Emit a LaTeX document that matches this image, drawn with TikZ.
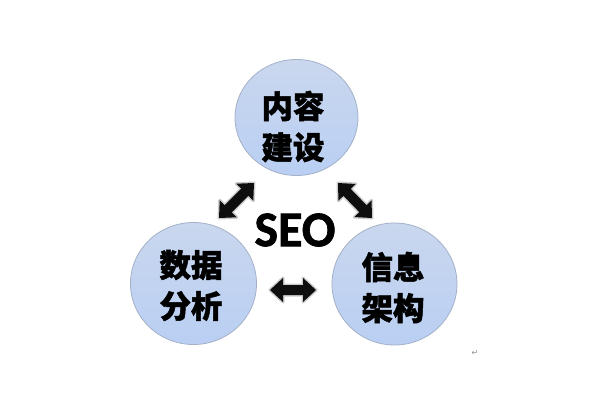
\documentclass[tikz,border=0pt]{standalone}
\usepackage{fontspec}
\newfontfamily\cjk{Noto Sans CJK SC}[BoldFeatures={FakeBold=1.5}]
\newfontfamily\seofont{Carlito}[BoldFeatures={FakeBold=1.3}]
\newfontfamily\symfont{DejaVu Sans}
\usetikzlibrary{shapes.geometric,calc}
\definecolor{circtop}{HTML}{CAD7EE}
\definecolor{circmid}{HTML}{DCE7F9}
\definecolor{circbot}{HTML}{B9CFF3}
\definecolor{circedge}{HTML}{A3B1C8}
\definecolor{arrowcol}{HTML}{0E0E0E}
\newcommand\myDblArrow[2]{%
  \fill[dblarrow] (#1)
    -- ($(#1)!13pt!(#2)!12pt!90:(#2)$)
    -- ($(#1)!13pt!(#2)!5pt!90:(#2)$)
    -- ($(#2)!13pt!(#1)!5pt!-90:(#1)$)
    -- ($(#2)!13pt!(#1)!12pt!-90:(#1)$)
    -- (#2)
    -- ($(#2)!13pt!(#1)!12pt!90:(#1)$)
    -- ($(#2)!13pt!(#1)!5pt!90:(#1)$)
    -- ($(#1)!13pt!(#2)!5pt!-90:(#2)$)
    -- ($(#1)!13pt!(#2)!12pt!-90:(#2)$)
    -- cycle;}
\begin{document}
\begin{tikzpicture}[x=1pt,y=-1pt,
  bubble/.style={ellipse, draw=circedge, line width=0.8pt, top color=circtop, middle color=circmid, bottom color=circbot, inner sep=0pt},
  cjktext/.style={font=\cjk\bfseries\fontsize{31.5}{41}\selectfont, align=center, text=black, inner sep=0pt},
  dblarrow/.style={fill=arrowcol, line join=miter, preaction={draw=black!20, line width=3pt, line join=round}}
]
\useasboundingbox[fill=white] (0,0) rectangle (600,400);
% circles
\node[bubble, minimum width=123pt, minimum height=116pt] (top) at (296.5,117.5) {};
\node[bubble, minimum width=126pt, minimum height=122pt] (left) at (193.5,283.5) {};
\node[bubble, minimum width=125pt, minimum height=122pt] (right) at (394.5,284) {};
% texts
\node[cjktext] (ttop) at (293,126.5) {内容\\建设};
\node[cjktext] (tleft) at (191,285.5) {数据\\分析};
\node[cjktext] (tright) at (393,287.5) {信息\\架构};
\node[font=\seofont\bfseries\fontsize{50}{50}\selectfont, inner sep=0pt] (seo) at (295,230) {SEO};
% arrow end points
\coordinate (l1) at (219,218);
\coordinate (l2) at (254,183);
\coordinate (r1) at (338,183);
\coordinate (r2) at (372,218);
\coordinate (h1) at (270,290);
\coordinate (h2) at (316,290);
\myDblArrow{l1}{l2}
\myDblArrow{r1}{r2}
\myDblArrow{h1}{h2}
% return mark
\node[font=\symfont\fontsize{8}{8}\selectfont, text=black!45, inner sep=0pt] (ret) at (475,353) {↵};
\end{tikzpicture}
\end{document}
